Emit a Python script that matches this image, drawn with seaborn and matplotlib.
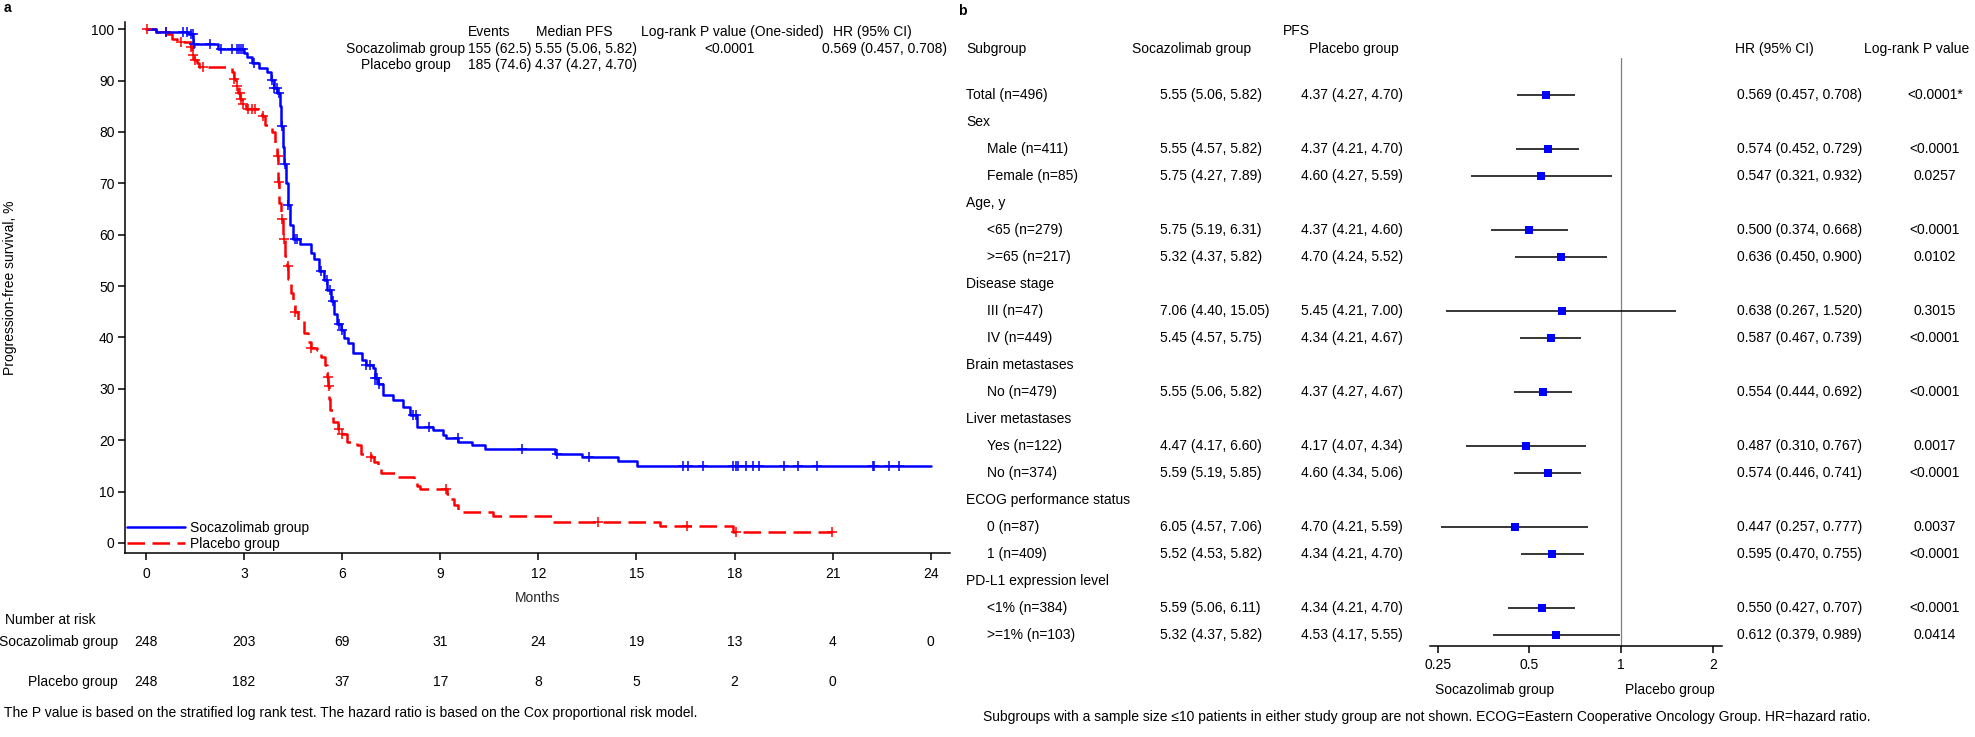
import numpy as np
import matplotlib
matplotlib.use("Agg")
import matplotlib.pyplot as plt
import matplotlib.transforms as mtransforms
from matplotlib.ticker import NullLocator
import seaborn as sns


# ============================================================
# Data - panel a (Kaplan-Meier, PFS)
# ============================================================

soc_time = [0, 0.30, 1.30, 1.45, 2.20, 3.00, 3.10, 3.25, 3.45, 3.70,
            3.82, 3.92, 4.02, 4.10, 4.13, 4.18, 4.22, 4.27, 4.33, 4.40,
            4.50, 4.70, 5.05, 5.15, 5.30, 5.45, 5.55, 5.65, 5.75, 5.85,
            5.95, 6.05, 6.18, 6.32, 6.62, 6.72, 6.95, 7.00, 7.10, 7.25,
            7.55, 7.86, 8.07, 8.28, 8.78, 9.08, 9.19, 9.54, 9.96, 10.37,
            12.50, 13.32, 14.44, 15.02, 24.00]
soc_surv = [100, 99.5, 99.0, 97.1, 96.2, 95.3, 94.5, 93.4, 92.4, 91.6,
            90.1, 88.6, 87.5, 85.0, 81.1, 77.1, 73.7, 70.1, 65.8, 61.9,
            59.1, 58.2, 56.5, 55.2, 52.9, 51.1, 49.2, 47.1, 44.6, 42.6,
            41.5, 39.8, 39.0, 37.0, 35.6, 34.6, 34.0, 32.2, 31.0, 28.8,
            27.8, 26.5, 24.9, 22.6, 22.0, 21.0, 20.4, 19.7, 19.1, 18.3,
            17.4, 16.7, 15.9, 15.0, 15.0]
soc_censor = [0.61, 1.13, 1.24, 1.38, 1.43, 1.47, 1.95, 2.30, 2.63, 2.77,
              2.84, 2.90, 2.97, 3.29, 3.86, 3.93, 4.00, 4.07, 4.17, 4.25,
              4.34, 4.55, 4.62, 5.34, 5.53, 5.64, 5.71, 5.91, 5.98, 6.73,
              6.84, 7.00, 7.07, 7.14, 8.16, 8.26, 8.67, 9.53, 11.51, 12.57,
              13.56, 16.41, 16.57, 17.04, 17.95, 18.06, 18.10, 18.35, 18.56,
              18.75, 19.51, 19.94, 20.52, 22.23, 22.26, 22.72, 23.03]

plac_time = [0, 0.30, 0.65, 0.80, 0.95, 1.38, 1.42, 1.47, 1.55, 1.63,
             2.62, 2.68, 2.75, 2.82, 2.88, 2.95, 3.05, 3.55, 3.65, 3.85,
             3.95, 4.00, 4.05, 4.08, 4.12, 4.18, 4.25, 4.30, 4.35, 4.43,
             4.50, 4.57, 4.66, 4.82, 4.96, 5.05, 5.23, 5.36, 5.48, 5.55,
             5.58, 5.61, 5.64, 5.71, 5.87, 5.98, 6.16, 6.46, 6.57, 6.87,
             6.98, 7.11, 7.20, 7.68, 8.20, 8.30, 8.38, 9.22, 9.30, 9.42,
             9.55, 9.65, 10.62, 12.45, 15.72, 17.95, 20.98]
plac_surv = [100, 99.5, 99.0, 98.1, 97.5, 96.5, 95.0, 94.0, 93.5, 92.7,
             91.7, 90.4, 89.0, 87.5, 86.5, 85.5, 84.5, 83.2, 81.4, 80.0,
             77.4, 75.4, 70.2, 66.2, 63.1, 59.1, 55.9, 53.9, 51.3, 48.7,
             46.7, 45.0, 43.4, 40.8, 39.2, 38.0, 37.5, 36.2, 34.6, 32.3,
             30.5, 28.1, 25.8, 23.5, 22.2, 21.2, 19.6, 19.0, 17.3, 16.7,
             15.7, 14.7, 13.6, 12.9, 12.0, 11.0, 10.6, 9.6, 8.6, 7.4,
             6.4, 6.0, 5.3, 4.0, 3.3, 2.2, 2.2]
plac_censor = [0.04, 0.61, 1.06, 1.38, 1.45, 1.50, 1.75, 2.70, 2.77, 2.86,
               2.90, 2.97, 3.11, 3.25, 3.32, 3.59, 4.03, 4.07, 4.17, 4.22,
               4.34, 4.57, 5.05, 5.57, 5.59, 5.91, 5.98, 6.87, 9.19, 13.83,
               16.56, 18.04, 20.98]

risk_months_soc = [0, 3, 6, 9, 12, 15, 18, 21, 24]
risk_soc = [248, 203, 69, 31, 24, 19, 13, 4, 0]
risk_months_plac = [0, 3, 6, 9, 12, 15, 18, 21]
risk_plac = [248, 182, 37, 17, 8, 5, 2, 0]

km_groups = ["Socazolimab group", "Placebo group"]
km_events = ["155 (62.5)", "185 (74.6)"]
km_median = ["5.55 (5.06, 5.82)", "4.37 (4.27, 4.70)"]
km_p = "<0.0001"
km_hr = "0.569 (0.457, 0.708)"


# ============================================================
# Data - panel b (forest plot)
# ============================================================

subgroup_labels = ["Total (n=496)", "Sex", "Male (n=411)", "Female (n=85)",
                   "Age, y", "<65 (n=279)", ">=65 (n=217)", "Disease stage",
                   "III (n=47)", "IV (n=449)", "Brain metastases",
                   "No (n=479)", "Liver metastases", "Yes (n=122)",
                   "No (n=374)", "ECOG performance status", "0 (n=87)",
                   "1 (n=409)", "PD-L1 expression level", "<1% (n=384)",
                   ">=1% (n=103)"]
subgroup_level = [0, 0, 1, 1, 0, 1, 1, 0, 1, 1, 0, 1, 0, 1, 1, 0, 1, 1, 0, 1, 1]

soc_pfs = ["5.55 (5.06, 5.82)", None, "5.55 (4.57, 5.82)", "5.75 (4.27, 7.89)",
           None, "5.75 (5.19, 6.31)", "5.32 (4.37, 5.82)", None,
           "7.06 (4.40, 15.05)", "5.45 (4.57, 5.75)", None,
           "5.55 (5.06, 5.82)", None, "4.47 (4.17, 6.60)",
           "5.59 (5.19, 5.85)", None, "6.05 (4.57, 7.06)",
           "5.52 (4.53, 5.82)", None, "5.59 (5.06, 6.11)",
           "5.32 (4.37, 5.82)"]
plac_pfs = ["4.37 (4.27, 4.70)", None, "4.37 (4.21, 4.70)", "4.60 (4.27, 5.59)",
            None, "4.37 (4.21, 4.60)", "4.70 (4.24, 5.52)", None,
            "5.45 (4.21, 7.00)", "4.34 (4.21, 4.67)", None,
            "4.37 (4.27, 4.67)", None, "4.17 (4.07, 4.34)",
            "4.60 (4.34, 5.06)", None, "4.70 (4.21, 5.59)",
            "4.34 (4.21, 4.70)", None, "4.34 (4.21, 4.70)",
            "4.53 (4.17, 5.55)"]
hr = [0.569, None, 0.574, 0.547, None, 0.500, 0.636, None, 0.638, 0.587,
      None, 0.554, None, 0.487, 0.574, None, 0.447, 0.595, None, 0.550, 0.612]
hr_low = [0.457, None, 0.452, 0.321, None, 0.374, 0.450, None, 0.267, 0.467,
          None, 0.444, None, 0.310, 0.446, None, 0.257, 0.470, None, 0.427, 0.379]
hr_high = [0.708, None, 0.729, 0.932, None, 0.668, 0.900, None, 1.520, 0.739,
           None, 0.692, None, 0.767, 0.741, None, 0.777, 0.755, None, 0.707, 0.989]
p_values = ["<0.0001*", None, "<0.0001", "0.0257", None, "<0.0001", "0.0102",
            None, "0.3015", "<0.0001", None, "<0.0001", None, "0.0017",
            "<0.0001", None, "0.0037", "<0.0001", None, "<0.0001", "0.0414"]

forest_ticks = [0.25, 0.5, 1, 2]


# ============================================================
# Style
# ============================================================

BLUE = "#0000FF"
RED = "#FF0000"

sns.set_theme(style="ticks", rc={
    "axes.linewidth": 1.1,
    "axes.edgecolor": "black",
    "xtick.major.width": 1.1,
    "ytick.major.width": 1.1,
    "xtick.major.size": 5,
    "ytick.major.size": 5,
    "xtick.color": "black",
    "ytick.color": "black",
    "text.color": "black",
})
plt.rcParams["font.family"] = ["Liberation Sans", "DejaVu Sans"]
plt.rcParams["font.size"] = 10

W, H = 1975, 737
fig = plt.figure(figsize=(W / 100, H / 100), dpi=100)


def fx(x):
    return x / W


def fy(y):
    return 1 - y / H


def box(left, top, right, bottom):
    return [fx(left), fy(bottom), (right - left) / W, (bottom - top) / H]


def step_at(times, surv, points):
    idx = np.searchsorted(np.asarray(times), np.asarray(points), side="right") - 1
    return np.asarray(surv)[idx]


# ============================================================
# Panel a - Kaplan-Meier curves
# ============================================================

ax_km = fig.add_axes(box(125, 22, 950, 553))

sns.lineplot(x=plac_time, y=plac_surv, ax=ax_km, color=RED, lw=1.8,
             linestyle=(0, (7, 3)), drawstyle="steps-post", estimator=None,
             label="Placebo group")
sns.lineplot(x=soc_time, y=soc_surv, ax=ax_km, color=BLUE, lw=1.8,
             drawstyle="steps-post", estimator=None,
             label="Socazolimab group")

sns.scatterplot(x=plac_censor, y=step_at(plac_time, plac_surv, plac_censor),
                ax=ax_km, marker="+", s=60, color=RED, linewidth=1.1,
                legend=False, zorder=4)
sns.scatterplot(x=soc_censor, y=step_at(soc_time, soc_surv, soc_censor),
                ax=ax_km, marker="+", s=60, color=BLUE, linewidth=1.1,
                legend=False, zorder=5)

ax_km.set_xlim(-0.642, 24.59)
ax_km.set_ylim(-1.95, 101.4)
ax_km.set_xticks(range(0, 25, 3))
ax_km.set_yticks(range(0, 101, 10))
ax_km.tick_params(axis="x", labelsize=10, pad=5)
ax_km.tick_params(axis="y", labelsize=10, pad=2.5)
ax_km.set_xlabel("Months", fontsize=10, labelpad=7)
ax_km.set_ylabel("")
sns.despine(ax=ax_km)

handles, labels = ax_km.get_legend_handles_labels()
order = [labels.index(g) for g in km_groups]
ax_km.legend([handles[i] for i in order], [labels[i] for i in order],
             loc="lower left", bbox_to_anchor=(fx(127), fy(551)),
             bbox_transform=fig.transFigure, frameon=False, fontsize=10,
             handlelength=4.2, handletextpad=0.3, labelspacing=0.15,
             borderpad=0, borderaxespad=0)

fig.text(fx(10), fy(288), "Progression-free survival, %", rotation=90,
         ha="center", va="center", fontsize=10)
fig.text(fx(4), fy(8), "a", fontsize=10, fontweight="bold", va="center")

# Summary table inside panel a
fig.text(fx(468), fy(32), "Events", va="center")
fig.text(fx(536), fy(32), "Median PFS", va="center")
fig.text(fx(641), fy(32), "Log-rank P value (One-sided)", va="center")
fig.text(fx(833), fy(32), "HR (95% CI)", va="center")
for row_y, group, events, median in zip([49, 65], km_groups, km_events, km_median):
    fig.text(fx(406), fy(row_y), group, ha="center", va="center")
    fig.text(fx(468), fy(row_y), events, va="center")
    fig.text(fx(535), fy(row_y), median, va="center")
fig.text(fx(704), fy(49), km_p, va="center")
fig.text(fx(822), fy(49), km_hr, va="center")

# Number at risk
risk_trans = mtransforms.blended_transform_factory(ax_km.transData, fig.transFigure)
fig.text(fx(5), fy(620), "Number at risk", va="center")
fig.text(fx(118), fy(642), "Socazolimab group", ha="right", va="center")
fig.text(fx(118), fy(682), "Placebo group", ha="right", va="center")
for month, n in zip(risk_months_soc, risk_soc):
    ax_km.text(month, fy(642), str(n), transform=risk_trans, ha="center", va="center")
for month, n in zip(risk_months_plac, risk_plac):
    ax_km.text(month, fy(682), str(n), transform=risk_trans, ha="center", va="center")
fig.text(fx(4), fy(713),
         "The P value is based on the stratified log rank test. "
         "The hazard ratio is based on the Cox proportional risk model.",
         va="center")


# ============================================================
# Panel b - Forest plot
# ============================================================

ax_f = fig.add_axes(box(1430, 58, 1722, 646))
rows = np.arange(len(subgroup_labels))
data_rows = [i for i in rows if hr[i] is not None]

ax_f.hlines(y=data_rows, xmin=[hr_low[i] for i in data_rows],
            xmax=[hr_high[i] for i in data_rows], color="black", lw=1.1)
sns.scatterplot(x=[hr[i] for i in data_rows], y=data_rows, ax=ax_f,
                marker="s", s=34, color=BLUE, edgecolor=BLUE, linewidth=0,
                legend=False, zorder=3)
ax_f.axvline(1, color="#808080", lw=0.9, zorder=1)

ax_f.set_xscale("log", base=2)
ax_f.set_xlim(0.236, 2.145)
ax_f.set_ylim((646 - 95) / 27, (58 - 95) / 27)
ax_f.set_xticks(forest_ticks)
ax_f.set_xticklabels([f"{t:g}" for t in forest_ticks])
ax_f.xaxis.set_minor_locator(NullLocator())
ax_f.set_yticks([])
ax_f.tick_params(axis="x", labelsize=10, pad=3.5)
ax_f.set_xlabel("")
ax_f.set_ylabel("")
sns.despine(ax=ax_f, left=True)

row_trans = mtransforms.blended_transform_factory(fig.transFigure, ax_f.transData)
for i in rows:
    indent = 987 if subgroup_level[i] == 1 else 966
    ax_f.text(fx(indent), i, subgroup_labels[i], transform=row_trans, va="center")
    if hr[i] is None:
        continue
    ax_f.text(fx(1160), i, soc_pfs[i], transform=row_trans, va="center")
    ax_f.text(fx(1301), i, plac_pfs[i], transform=row_trans, va="center")
    ax_f.text(fx(1737), i, f"{hr[i]:.3f} ({hr_low[i]:.3f}, {hr_high[i]:.3f})",
              transform=row_trans, va="center")
    ax_f.text(fx(1935), i, p_values[i], transform=row_trans, ha="center", va="center")

fig.text(fx(958), fy(11), "b", fontsize=10, fontweight="bold", va="center")
fig.text(fx(1283), fy(31), "PFS", va="center")
fig.text(fx(966), fy(49), "Subgroup", va="center")
fig.text(fx(1192), fy(49), "Socazolimab group", ha="center", va="center")
fig.text(fx(1354), fy(49), "Placebo group", ha="center", va="center")
fig.text(fx(1735), fy(49), "HR (95% CI)", va="center")
fig.text(fx(1864), fy(49), "Log-rank P value", va="center")

fig.text(fx(1495), fy(690), "Socazolimab group", ha="center", va="center")
fig.text(fx(1670), fy(690), "Placebo group", ha="center", va="center")
fig.text(fx(983), fy(717),
         "Subgroups with a sample size \u226410 patients in either study group are not shown. "
         "ECOG=Eastern Cooperative Oncology Group. HR=hazard ratio.",
         va="center")

fig.savefig("out.png", dpi=100)
